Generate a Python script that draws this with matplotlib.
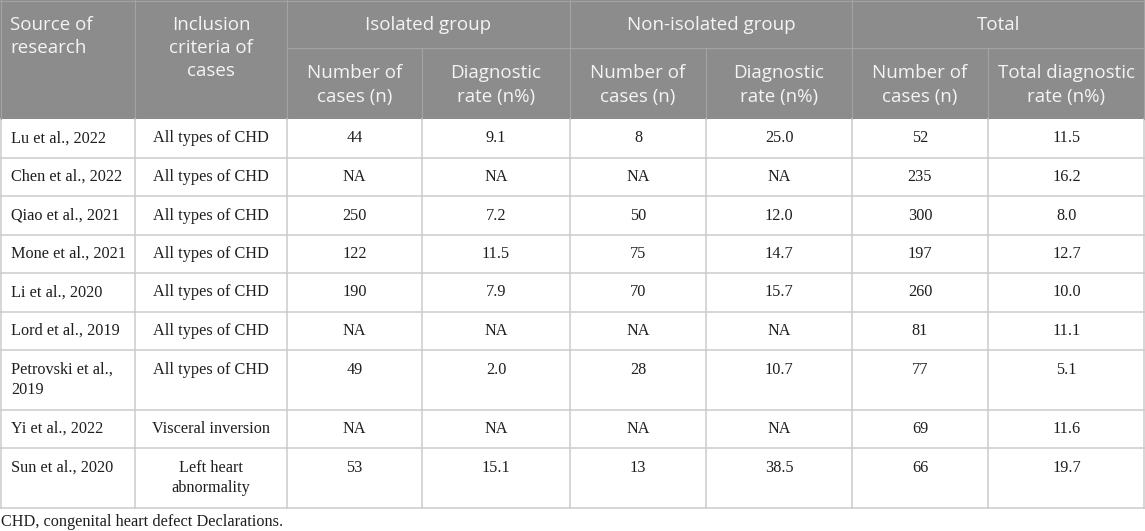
import matplotlib
matplotlib.use("Agg")
import matplotlib.pyplot as plt
from matplotlib.patches import Rectangle

# table content
groups = ["Isolated group", "Non-isolated group", "Total"]
sub_headers = [["Number of", "cases (n)"], ["Diagnostic", "rate (n%)"],
               ["Number of", "cases (n)"], ["Diagnostic", "rate (n%)"],
               ["Number of", "cases (n)"], ["Total diagnostic", "rate (n%)"]]
sources = [["Lu et al., 2022"], ["Chen et al., 2022"], ["Qiao et al., 2021"],
           ["Mone et al., 2021"], ["Li et al., 2020"], ["Lord et al., 2019"],
           ["Petrovski et al.,", "2019"], ["Yi et al., 2022"], ["Sun et al., 2020"]]
criteria = [["All types of CHD"]] * 7 + [["Visceral inversion"], ["Left heart", "abnormality"]]
iso_n = ["44", "NA", "250", "122", "190", "NA", "49", "NA", "53"]
iso_rate = ["9.1", "NA", "7.2", "11.5", "7.9", "NA", "2.0", "NA", "15.1"]
non_n = ["8", "NA", "50", "75", "70", "NA", "28", "NA", "13"]
non_rate = ["25.0", "NA", "12.0", "14.7", "15.7", "NA", "10.7", "NA", "38.5"]
tot_n = ["52", "235", "300", "197", "260", "81", "77", "69", "66"]
tot_rate = ["11.5", "16.2", "8.0", "12.7", "10.0", "11.1", "5.1", "11.6", "19.7"]
footnote = "CHD, congenital heart defect Declarations."

W, H = 1145, 531
cols = [0, 135, 287, 422, 570, 706, 852, 988, 1145]
head_grp = 48
head_bot = 119
line_h = 21
hdr_gap = 23

HEAD_BG = "#8c8c8c"
HEAD_LINE = "#a3a3a3"
GRID = "#cbcbcb"
hfont = dict(family="Open Sans", fontsize=13.5, color="#f4f4f4")
bfont = dict(family="Liberation Serif", fontsize=11.7, color="#1e1e1e")

fig = plt.figure(figsize=(W / 100, H / 100), dpi=100)
ax = fig.add_axes([0, 0, 1, 1])
ax.set_xlim(0, W)
ax.set_ylim(H, 0)
ax.axis("off")

# header background
ax.add_patch(Rectangle((0, 0), W, head_bot, color=HEAD_BG, lw=0))

# header lines
for x in cols[1:-1]:
    top = 0 if x in (135, 287, 570, 852) else head_grp
    ax.plot([x, x], [top, head_bot], color=HEAD_LINE, lw=0.8)
ax.plot([cols[2], W], [head_grp, head_grp], color=HEAD_LINE, lw=0.8)
ax.plot([0, W], [0.5, 0.5], color=HEAD_LINE, lw=0.8)

# header text
for i, s in enumerate(["Source of", "research"]):
    ax.text(10, 25 + i * hdr_gap, s, ha="left", va="center", **hfont)
for i, s in enumerate(["Inclusion", "criteria of", "cases"]):
    ax.text((cols[1] + cols[2]) / 2, 25 + i * hdr_gap, s, ha="center", va="center", **hfont)
for g, name in enumerate(groups):
    x0, x1 = cols[2 + 2 * g], cols[4 + 2 * g]
    ax.text((x0 + x1) / 2, 25, name, ha="center", va="center", **hfont)
for j, lines in enumerate(sub_headers):
    xc = (cols[2 + j] + cols[3 + j]) / 2
    for i, s in enumerate(lines):
        ax.text(xc, 73 + i * 24, s, ha="center", va="center", **hfont)

# body
values = [iso_n, iso_rate, non_n, non_rate, tot_n, tot_rate]
y = head_bot
row_lines = [y]
for r in range(len(sources)):
    nl = max(len(sources[r]), len(criteria[r]))
    h = 17.5 + line_h * nl
    for i, s in enumerate(sources[r]):
        ax.text(11, y + 19.5 + i * line_h, s, ha="left", va="center", **bfont)
    for i, s in enumerate(criteria[r]):
        ax.text((cols[1] + cols[2]) / 2, y + 19.5 + i * line_h, s, ha="center", va="center", **bfont)
    for j, col in enumerate(values):
        ax.text((cols[2 + j] + cols[3 + j]) / 2, y + 19.5, col[r], ha="center", va="center", **bfont)
    y += h
    row_lines.append(y)

for yl in row_lines[1:]:
    ax.plot([0, W], [yl, yl], color=GRID, lw=1.1)
for x in cols:
    xx = min(max(x, 0.6), W - 0.6)
    ax.plot([xx, xx], [head_bot, row_lines[-1]], color=GRID, lw=1.1)
ax.plot([0.6, 0.6], [0, head_bot], color=HEAD_LINE, lw=0.8)
ax.plot([W - 0.6, W - 0.6], [0, head_bot], color=HEAD_LINE, lw=0.8)

ax.text(1, 522, footnote, ha="left", va="center", **bfont)

fig.savefig("out.png", dpi=100)
